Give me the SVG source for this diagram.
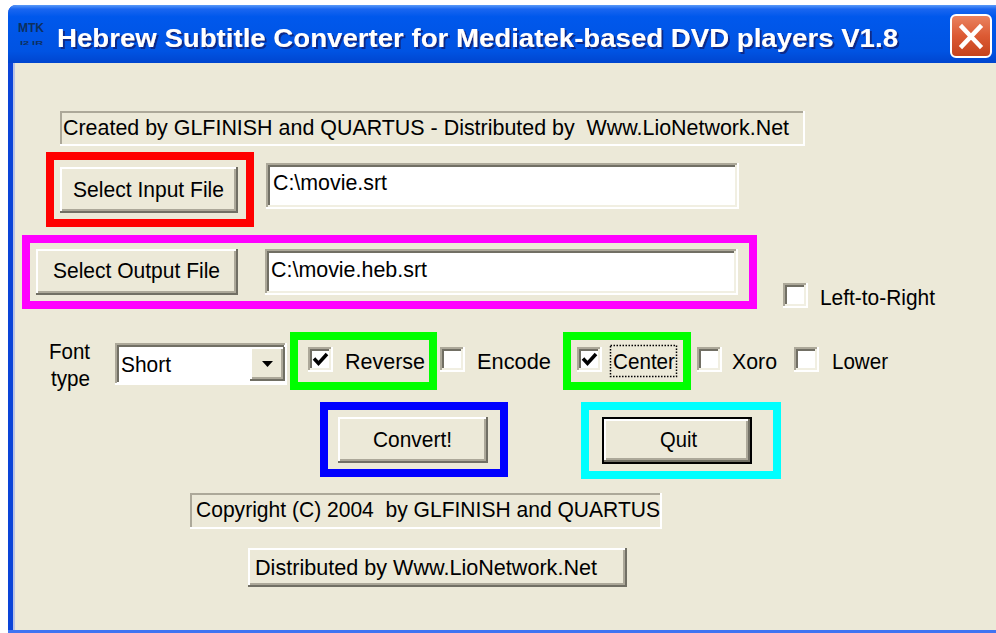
<svg xmlns="http://www.w3.org/2000/svg" width="996" height="633" viewBox="0 0 996 633">
<style>
.t{font-family:"Liberation Sans",Arial,sans-serif;font-size:22px;fill:#000;white-space:pre}
.face{fill:#ECE9D8}
.hl{fill:none;stroke:#fff;stroke-width:2}
.sd{fill:none;stroke:#716F64;stroke-width:2}
.sm{fill:none;stroke:#ACA899;stroke-width:2}
.fw{fill:#fff}
.lt{fill:none;stroke:#F1EFE2;stroke-width:2}
.mark{fill:none;stroke-width:8}
</style>
<defs>
<linearGradient id="gTitle" x1="0" y1="0" x2="0" y2="1">
<stop offset="0" stop-color="#5a9af8"/>
<stop offset="0.07" stop-color="#1a66f0"/>
<stop offset="0.2" stop-color="#0058ec"/>
<stop offset="0.8" stop-color="#0053e2"/>
<stop offset="1" stop-color="#0045cf"/>
</linearGradient>
<linearGradient id="gClose" x1="0" y1="0" x2="0" y2="1">
<stop offset="0" stop-color="#ea8462"/>
<stop offset="0.5" stop-color="#dc5a33"/>
<stop offset="1" stop-color="#c4421c"/>
</linearGradient>
<filter id="shadow" x="-5%" y="-30%" width="110%" height="160%">
<feDropShadow dx="2" dy="2" stdDeviation="0.6" flood-color="#0a2a8a" flood-opacity="1"/>
</filter>
<g id="cbox">
<rect x="0" y="0" width="25" height="25" fill="#fff"/>
<path d="M1,24 V1 H24" fill="none" stroke="#ACA899" stroke-width="2"/>
<path d="M3,22 V3 H22" fill="none" stroke="#716F64" stroke-width="2"/>
<path d="M0,24 H24 V0" fill="none" stroke="#fff" stroke-width="2"/>
<path d="M2,22 H22 V2" fill="none" stroke="#F1EFE2" stroke-width="2"/>
</g>
<path id="tick" d="M6,11.5 L10.5,16.5 L19,7" fill="none" stroke="#000" stroke-width="3.5"/>
</defs>

<rect x="0" y="0" width="996" height="633" fill="#fff"/>

<g id="window">
<path d="M8,633 V14 Q8,5 17,5 H996 V633 Z" fill="#0a44d8"/>
<path d="M8,63 V14 Q8,5 17,5 H996 V63 Z" fill="url(#gTitle)"/>
<rect x="13" y="63" width="2" height="567" fill="#b9c3e4"/>
<rect x="15" y="63" width="981" height="567" fill="#ECE9D8"/>
<rect x="8" y="630" width="988" height="3" fill="#3f74f2"/>
</g>

<g id="titlebar">
<text x="18" y="32" font-family="'Liberation Sans',Arial,sans-serif" font-size="12" font-weight="bold" fill="#0d2f5e" textLength="26" lengthAdjust="spacingAndGlyphs">MTK</text>
<text x="20" y="45" font-family="'Liberation Sans',Arial,sans-serif" font-size="6" font-weight="bold" fill="#0d2f5e" textLength="23" lengthAdjust="spacingAndGlyphs">I2 IR</text>
<text x="57" y="47" font-family="'Liberation Sans',Arial,sans-serif" font-size="26" font-weight="bold" fill="#fff" filter="url(#shadow)" textLength="841" lengthAdjust="spacingAndGlyphs">Hebrew Subtitle Converter for Mediatek-based DVD players V1.8</text>
</g>

<g id="close-button">
<rect x="951" y="15" width="40" height="42" rx="5" fill="url(#gClose)" stroke="#fff" stroke-width="2"/>
<path d="M962,27 L980,46 M980,27 L962,46" stroke="#fff" stroke-width="4.5" stroke-linecap="square"/>
</g>

<g id="label-created">
<rect x="60" y="111" width="745" height="35" class="face"/>
<path d="M61,145 V112 H804" class="sm"/>
<path d="M60,145 H804 V111" class="hl"/>
<text x="63" y="135" class="t" textLength="726" lengthAdjust="spacingAndGlyphs">Created by GLFINISH and QUARTUS - Distributed by  Www.LioNetwork.Net</text>
</g>

<g id="btn-select-input">
<rect x="60" y="167" width="178" height="46" class="face"/>
<path d="M61,211 V168 H236" class="hl"/>
<path d="M60,212 H237 V167" class="sd"/>
<path d="M62,210 H235 V169" class="sm"/>
<text x="73" y="197" class="t" textLength="151" lengthAdjust="spacingAndGlyphs">Select Input File</text>
</g>

<g id="input-path">
<rect x="266" y="163" width="473" height="46" class="fw"/>
<path d="M267,208 V164 H738" class="sm"/>
<path d="M269,206 V166 H736" class="sd"/>
<path d="M266,208 H738 V163" class="hl"/>
<path d="M268,206 H736 V165" class="lt"/>
<text x="273" y="190" class="t" textLength="114" lengthAdjust="spacingAndGlyphs">C:\movie.srt</text>
</g>

<g id="btn-select-output">
<rect x="36" y="249" width="202" height="46" class="face"/>
<path d="M37,293 V250 H236" class="hl"/>
<path d="M36,294 H237 V249" class="sd"/>
<path d="M38,292 H235 V251" class="sm"/>
<text x="53" y="278" class="t" textLength="167" lengthAdjust="spacingAndGlyphs">Select Output File</text>
</g>

<g id="output-path">
<rect x="265" y="249" width="473" height="46" class="fw"/>
<path d="M266,294 V250 H737" class="sm"/>
<path d="M268,292 V252 H735" class="sd"/>
<path d="M265,294 H737 V249" class="hl"/>
<path d="M267,292 H735 V251" class="lt"/>
<text x="271" y="277" class="t" textLength="156" lengthAdjust="spacingAndGlyphs">C:\movie.heb.srt</text>
</g>

<g id="chk-left-to-right">
<use href="#cbox" x="783" y="283"/>
<text x="820" y="305" class="t" textLength="115" lengthAdjust="spacingAndGlyphs">Left-to-Right</text>
</g>

<g id="label-font-type">
<text x="49" y="359" class="t" textLength="41" lengthAdjust="spacingAndGlyphs">Font</text>
<text x="51" y="386" class="t" textLength="39" lengthAdjust="spacingAndGlyphs">type</text>
</g>

<g id="combo-font">
<rect x="115" y="343" width="172" height="42" class="fw"/>
<path d="M116,384 V344 H286" class="sm"/>
<path d="M118,382 V346 H284" class="sd"/>
<path d="M115,384 H286 V343" class="hl"/>
<text x="121" y="372" class="t" textLength="50" lengthAdjust="spacingAndGlyphs">Short</text>
<rect x="250" y="347" width="35" height="34" class="face"/>
<path d="M251,379 V348 H283" class="hl"/>
<path d="M250,380 H284 V347" class="sd"/>
<path d="M252,378 H282 V349" class="sm"/>
<path d="M262,361 H273 L267.5,367 Z" fill="#000"/>
</g>

<g id="chk-reverse">
<use href="#cbox" x="308" y="347"/>
<use href="#tick" x="308" y="347"/>
<text x="345" y="369" class="t" textLength="80" lengthAdjust="spacingAndGlyphs">Reverse</text>
</g>

<g id="chk-encode">
<use href="#cbox" x="440" y="347"/>
<text x="477" y="369" class="t" textLength="74" lengthAdjust="spacingAndGlyphs">Encode</text>
</g>

<g id="chk-center">
<use href="#cbox" x="577" y="347"/>
<use href="#tick" x="577" y="347"/>
<rect x="610.5" y="345.5" width="66" height="31" fill="none" stroke="#000" stroke-width="1.5" stroke-dasharray="1.5 1.5"/>
<text x="613" y="369" class="t" textLength="62" lengthAdjust="spacingAndGlyphs">Center</text>
</g>

<g id="chk-xoro">
<use href="#cbox" x="697" y="347"/>
<text x="732" y="369" class="t" textLength="45" lengthAdjust="spacingAndGlyphs">Xoro</text>
</g>

<g id="chk-lower">
<use href="#cbox" x="794" y="347"/>
<text x="832" y="369" class="t" textLength="56" lengthAdjust="spacingAndGlyphs">Lower</text>
</g>

<g id="btn-convert">
<rect x="338" y="417" width="150" height="46" class="face"/>
<path d="M339,461 V418 H486" class="hl"/>
<path d="M338,462 H487 V417" class="sd"/>
<path d="M340,460 H485 V419" class="sm"/>
<text x="373" y="447" class="t" textLength="79" lengthAdjust="spacingAndGlyphs">Convert!</text>
</g>

<g id="btn-quit">
<rect x="602" y="417" width="150" height="47" class="face"/>
<rect x="603" y="418" width="148" height="45" fill="none" stroke="#000" stroke-width="2"/>
<path d="M605,460 V420 H748" class="hl"/>
<path d="M604,461 H749 V419" class="sd"/>
<path d="M606,459 H747 V421" class="sm"/>
<text x="660" y="447" class="t" textLength="37" lengthAdjust="spacingAndGlyphs">Quit</text>
</g>

<g id="label-copyright">
<rect x="190" y="493" width="472" height="36" class="face"/>
<path d="M191,528 V494 H661" class="sm"/>
<path d="M190,528 H661 V493" class="hl"/>
<text x="196" y="517" class="t" textLength="464" lengthAdjust="spacingAndGlyphs">Copyright (C) 2004  by GLFINISH and QUARTUS</text>
</g>

<g id="btn-distributed">
<rect x="248" y="548" width="379" height="39" class="face"/>
<path d="M249,585 V549 H625" class="hl"/>
<path d="M248,586 H626 V548" class="sd"/>
<path d="M250,584 H624 V550" class="sm"/>
<text x="255" y="575" class="t" textLength="342" lengthAdjust="spacingAndGlyphs">Distributed by Www.LioNetwork.Net</text>
</g>

<g id="highlights">
<rect x="50" y="156" width="200" height="67" class="mark" stroke="#ff0000"/>
<rect x="26" y="239" width="727" height="66" class="mark" stroke="#ff00ff"/>
<rect x="294" y="336" width="139" height="50" class="mark" stroke="#00ff00"/>
<rect x="567" y="336" width="120" height="50" class="mark" stroke="#00ff00"/>
<rect x="324" y="406" width="180" height="67" class="mark" stroke="#0000ff"/>
<rect x="585" y="406" width="192" height="69" class="mark" stroke="#00ffff"/>
</g>
</svg>
